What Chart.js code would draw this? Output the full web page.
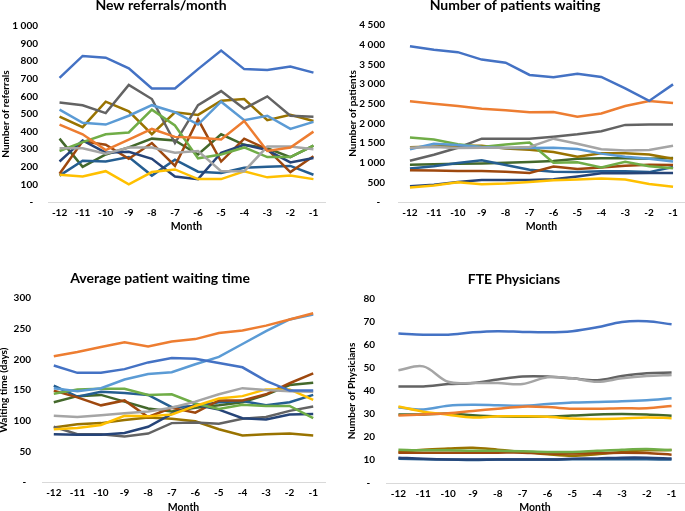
<!DOCTYPE html>
<html><head><meta charset="utf-8">
<script src="https://cdn.jsdelivr.net/npm/chart.js@4"></script>
<style>
html,body{margin:0;padding:0;background:#fff;width:685px;height:511px;overflow:hidden;position:relative}
canvas{position:absolute;display:block}
</style></head><body>
<canvas id="c1" width="342" height="255" style="left:0;top:0"></canvas>
<canvas id="c2" width="343" height="255" style="left:342px;top:0"></canvas>
<canvas id="c3" width="342" height="270" style="left:0;top:255px"></canvas>
<canvas id="c4" width="343" height="270" style="left:342px;top:255px"></canvas>
<script>
// ---------- shared data ----------
const months = ['-12','-11','-10','-9','-8','-7','-6','-5','-4','-3','-2','-1'];
const seriesColors = ['#4472C4','#ED7D31','#A5A5A5','#FFC000','#5B9BD5','#70AD47','#264478','#9E480E','#636363','#997300','#255E91','#43682B'];

// New referrals/month (one row per series, colour order above)
const referrals = [
  [705,830,820,760,645,645,755,860,755,750,770,735],
  [440,385,295,355,415,370,365,355,460,290,310,400],
  [305,305,275,310,310,280,290,175,175,315,315,300],
  [155,145,175,100,170,185,130,130,175,140,150,130],
  [525,450,440,490,550,510,440,570,465,490,415,455],
  [290,340,385,395,525,435,248,270,310,255,255,320],
  [230,350,280,285,245,145,130,280,325,295,225,250],
  [160,345,325,245,335,205,470,230,360,300,170,260],
  [565,550,505,665,585,335,550,630,530,600,490,485],
  [485,425,570,515,385,510,495,575,585,465,495,460],
  [150,235,230,255,150,240,172,165,195,200,205,155],
  [360,200,270,310,360,350,270,385,325,305,255,320]
];
// Number of patients waiting
const patientsWaiting = [
  [3960,3870,3810,3620,3540,3230,3170,3260,3180,2890,2570,2990],
  [2560,2500,2440,2370,2330,2280,2290,2170,2250,2440,2570,2520],
  [1380,1400,1370,1380,1380,1400,1610,1480,1340,1310,1320,1430],
  [370,420,500,450,470,510,550,570,600,570,460,390],
  [1340,1480,1450,1400,1370,1370,1380,1350,1230,1150,1100,1030],
  [1640,1590,1470,1400,1460,1510,1000,1010,880,1020,910,860],
  [400,440,510,560,560,560,580,650,730,730,740,740],
  [810,800,790,790,770,740,900,840,880,920,950,940],
  [1050,1200,1380,1610,1610,1610,1660,1720,1800,1960,1970,1970],
  [1390,1410,1430,1430,1360,1330,1270,1150,1240,1240,1210,1100],
  [850,910,990,1060,940,820,770,760,780,780,760,890],
  [950,960,970,980,1000,1020,1040,1100,1110,1110,1100,1120]
];
// Average patient waiting time (days)
const waitingTime = [
  [190,178,178,184,195,202,201,194,187,165,149,149],
  [205,212,220,228,221,229,233,243,247,255,265,275],
  [108,106,109,112,115,121,131,143,153,150,148,147],
  [86,88,93,108,107,110,124,136,140,151,151,134],
  [153,148,153,167,176,179,192,204,225,246,265,273],
  [144,151,152,152,142,143,128,119,126,124,124,104],
  [78,77,77,80,90,111,126,118,104,102,110,111],
  [149,138,125,133,106,121,113,133,133,143,161,177],
  [90,78,78,74,79,96,97,95,103,106,116,123],
  [89,94,96,101,105,103,99,86,76,78,79,76],
  [157,139,147,145,142,122,124,130,132,125,130,142],
  [130,140,142,131,120,115,121,125,130,142,158,162]
];
// FTE physicians
const ftePhysicians = [
  [65,64.5,64.5,65.5,66,65.7,65.5,66,67.7,70,70.3,69],
  [29.3,29.8,30.3,31.3,32.3,33.2,33,32.3,32.3,32.5,32.5,33.5],
  [49,50.7,44,43.5,43.5,43,46,45.5,44,45.5,46.5,47],
  [33.3,31,29.7,28.5,29,29,28.8,28,27.8,28,28.5,28.2],
  [32.8,32,33.6,34,33.8,33.6,34.3,35,35.2,35.5,36,36.8],
  [14.5,14.2,14.2,14,14,13.8,13.5,13.5,14,14.5,14.8,14.3],
  [11,10.5,10.2,10.2,10.2,10.2,10.2,10.5,10.7,11,11,10.7],
  [13.2,13.2,13.2,13.2,13.2,13.2,12.8,12.8,13,13.2,13,12.3],
  [42,42,43,43.5,45,46.3,46.3,45.5,44.7,46.5,47.7,48],
  [13.5,14.5,15,15.3,14.5,13.5,12.5,11.8,12.5,13.5,14.2,14.3],
  [10.5,10.3,10.2,10,10.2,10.2,10.2,10.3,10.3,10.3,10.3,10.2],
  [29.8,29.8,30.2,29.5,29,28.8,28.8,29.3,29.8,30,29.8,29.2]
];

// ---------- helpers ----------
const FONT = 'Lato';
function fmt(v){
  if (v === 0) return '-  ';
  return String(v).replace(/\B(?=(\d{3})+(?!\d))/g, ' ');
}
const titlePlugin = {
  id: 'panelTitle',
  afterDraw(chart, args, opts){
    const ctx = chart.ctx;
    ctx.save();
    ctx.font = 'bold 14px ' + FONT;
    ctx.fillStyle = '#000';
    ctx.textAlign = 'center';
    ctx.textBaseline = 'alphabetic';
    ctx.fillText(opts.text, opts.x, opts.y);
    ctx.restore();
  }
};

function makeChart(id, rows, cfg){
  const datasets = rows.map((vals, i) => ({
    data: vals,
    borderColor: seriesColors[i],
    backgroundColor: seriesColors[i],
    borderWidth: 2.5,
    pointRadius: 0,
    fill: false,
    tension: cfg.tension || 0
  }));
  return new Chart(document.getElementById(id), {
    type: 'line',
    data: { labels: months, datasets },
    plugins: [titlePlugin],
    options: {
      responsive: false,
      animation: false,
      layout: { padding: cfg.pad },
      plugins: {
        legend: { display: false },
        tooltip: { enabled: false },
        panelTitle: { text: cfg.title, x: cfg.tx, y: cfg.ty }
      },
      scales: {
        x: {
          offset: true,
          grid: { display: false, drawTicks: false, tickLength: 0 },
          border: { display: true, color: '#D9D9D9', width: 1 },
          ticks: { color: '#000', padding: 5, font: { family: FONT, size: 10, weight: 'bold' }, maxRotation: 0, autoSkip: false },
          title: { display: true, text: 'Month', color: '#000', padding: { top: 0, bottom: 4 }, font: { family: FONT, size: 10.5, weight: 'bold' } },
          afterFit(s){ s.height = cfg.xh; }
        },
        y: {
          min: 0, max: cfg.max,
          grid: { display: false, drawTicks: false, tickLength: 0 },
          border: { display: false },
          ticks: { stepSize: cfg.step, color: '#000', padding: cfg.yp, font: { family: FONT, size: 10, weight: 'bold' }, callback: v => fmt(v) },
          title: { display: true, text: cfg.ytitle, color: '#000', padding: { top: cfg.ytp, bottom: 0 }, font: { family: FONT, size: 10, weight: 'bold' } },
          afterFit(s){ s.width = cfg.yw; }
        }
      }
    }
  });
}

makeChart('c1', referrals, {
  title: 'New referrals/month', tx: 161, ty: 10,
  pad: { top: 26, right: 17, bottom: 18, left: 0 }, xh: 35,
  max: 1000, step: 100, yw: 48, yp: 10, ytp: 0, ytitle: 'Number of referrals'
});
makeChart('c2', patientsWaiting, {
  title: 'Number of patients waiting', tx: 173, ty: 10,
  pad: { top: 25, right: 0, bottom: 18, left: 0 }, xh: 35,
  max: 4500, step: 500, yw: 56, yp: 13, ytp: 5, ytitle: 'Number of patients'
});
makeChart('c3', waitingTime, {
  title: 'Average patient waiting time', tx: 160, ty: 28,
  pad: { top: 43, right: 17, bottom: 7, left: 0 }, xh: 36,
  max: 300, step: 50, yw: 42, yp: 11, ytp: -2, ytitle: 'Waiting time (days)'
});
makeChart('c4', ftePhysicians, {
  title: 'FTE Physicians', tx: 172, ty: 29,
  pad: { top: 44, right: 1, bottom: 7, left: 0 }, xh: 35,
  max: 80, step: 10, yw: 44, yp: 11, ytp: 4, ytitle: 'Number of Physicians', tension: 0.35
});
</script>
</body></html>
